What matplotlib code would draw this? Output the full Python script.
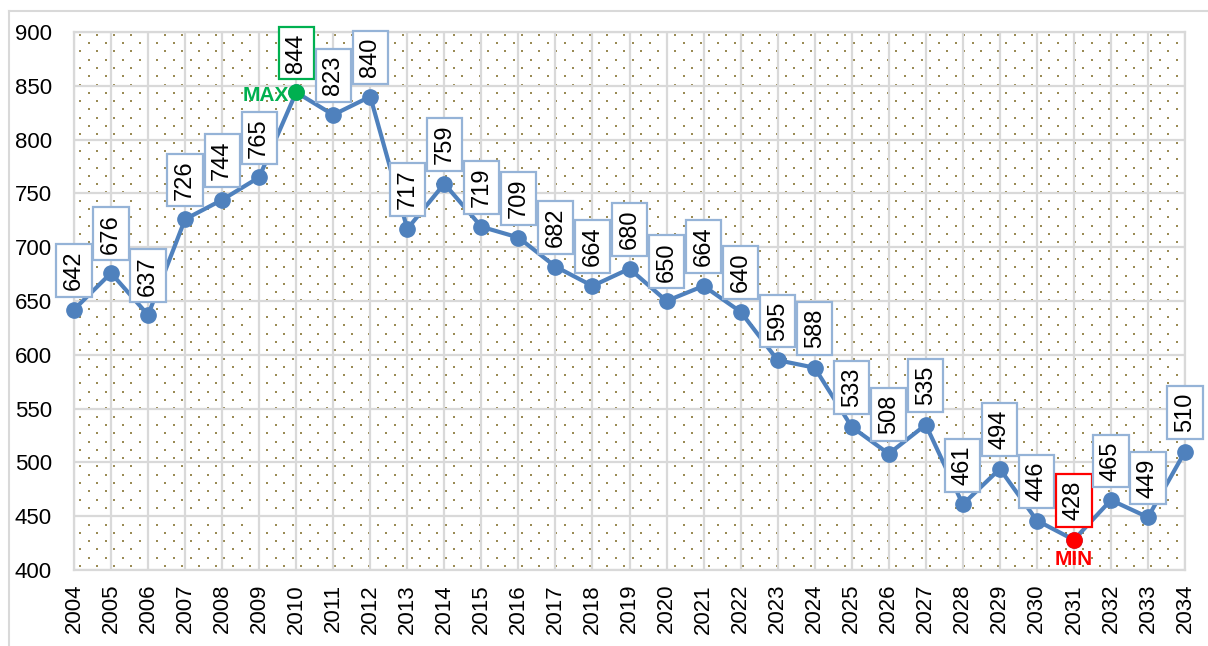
import numpy as np
import matplotlib
matplotlib.use('Agg')
import matplotlib.pyplot as plt
from matplotlib.lines import Line2D

plt.rcParams['font.family'] = ['Liberation Sans', 'DejaVu Sans']

years = list(range(2004, 2035))
values = [642, 676, 637, 726, 744, 765, 844, 823, 840, 717, 759, 719, 709, 682,
          664, 680, 650, 664, 640, 595, 588, 533, 508, 535, 461, 494, 446, 428,
          465, 449, 510]
y_ticks = [400, 450, 500, 550, 600, 650, 700, 750, 800, 850, 900]

line_col = '#4F81BD'
box_col = '#95B3D7'
max_col = '#00B050'
min_col = '#FF0000'
grid_col = '#D9D9D9'
dot_col = '#9A8B55'

fig = plt.figure(figsize=(12.08, 6.46), dpi=100)
ax = fig.add_axes([74 / 1208, 1 - 570 / 646, 1111 / 1208, 538 / 646])

# outer chart frame (top and left edges visible)
fig.add_artist(Line2D([9 / 1208, 1.01], [1 - 11 / 646, 1 - 11 / 646],
                      transform=fig.transFigure, color=grid_col, lw=1.5))
fig.add_artist(Line2D([9 / 1208, 9 / 1208], [-0.01, 1 - 11 / 646],
                      transform=fig.transFigure, color=grid_col, lw=1.5))

# dotted pattern fill of the plot area
W, H = 1111.0, 538.0
ys = np.arange(4, H, 8.3)
px, py = [], []
for i, yy in enumerate(ys):
    start = 6 if i % 2 == 0 else 14.5
    xs = np.arange(start, W, 17.0)
    px.extend(xs / W)
    py.extend([yy / H] * len(xs))
ax.scatter(px, py, transform=ax.transAxes, s=1.8, marker='s', color=dot_col,
           linewidths=0, zorder=0.5, clip_on=True)

ax.set_xlim(2004, 2034)
ax.set_ylim(400, 900)
ax.set_xticks(years)
ax.set_xticklabels([str(y) for y in years], rotation=90, fontsize=16)
ax.set_yticks(y_ticks)
ax.set_yticklabels([str(v) for v in y_ticks], fontsize=16)
ax.tick_params(axis='both', length=0, colors='black')
ax.tick_params(axis='y', pad=16)
ax.tick_params(axis='x', pad=10)
ax.grid(True, color=grid_col, lw=1.6, zorder=1)
ax.set_axisbelow(True)
for s in ax.spines.values():
    s.set_color(grid_col)
    s.set_linewidth(1.6)

ax.plot(years, values, color=line_col, lw=3, marker='o', markersize=11,
        zorder=3, clip_on=False)

imax = int(np.argmax(values))
imin = int(np.argmin(values))
ax.plot(years[imax], values[imax], 'o', color=max_col, markersize=11, zorder=4, clip_on=False)
ax.plot(years[imin], values[imin], 'o', color=min_col, markersize=11, zorder=4, clip_on=False)

for i, (x, v) in enumerate(zip(years, values)):
    ec = box_col
    if i == imax:
        ec = max_col
    elif i == imin:
        ec = min_col
    ax.annotate(str(v), (x, v), xytext=(0, 14), textcoords='offset points',
                rotation=90, ha='center', va='bottom', fontsize=17, zorder=5,
                bbox=dict(boxstyle='square,pad=0.28', fc='white', ec=ec, lw=1.6),
                annotation_clip=False)

ax.annotate('MAX', (years[imax], values[imax]), xytext=(-5, -2), textcoords='offset points',
            ha='right', va='center', fontsize=15, fontweight='bold', color=max_col, zorder=5)
ax.annotate('MIN', (years[imin], values[imin]), xytext=(0, -7), textcoords='offset points',
            ha='center', va='top', fontsize=15, fontweight='bold', color=min_col, zorder=5)

fig.savefig('out.png', dpi=100)
